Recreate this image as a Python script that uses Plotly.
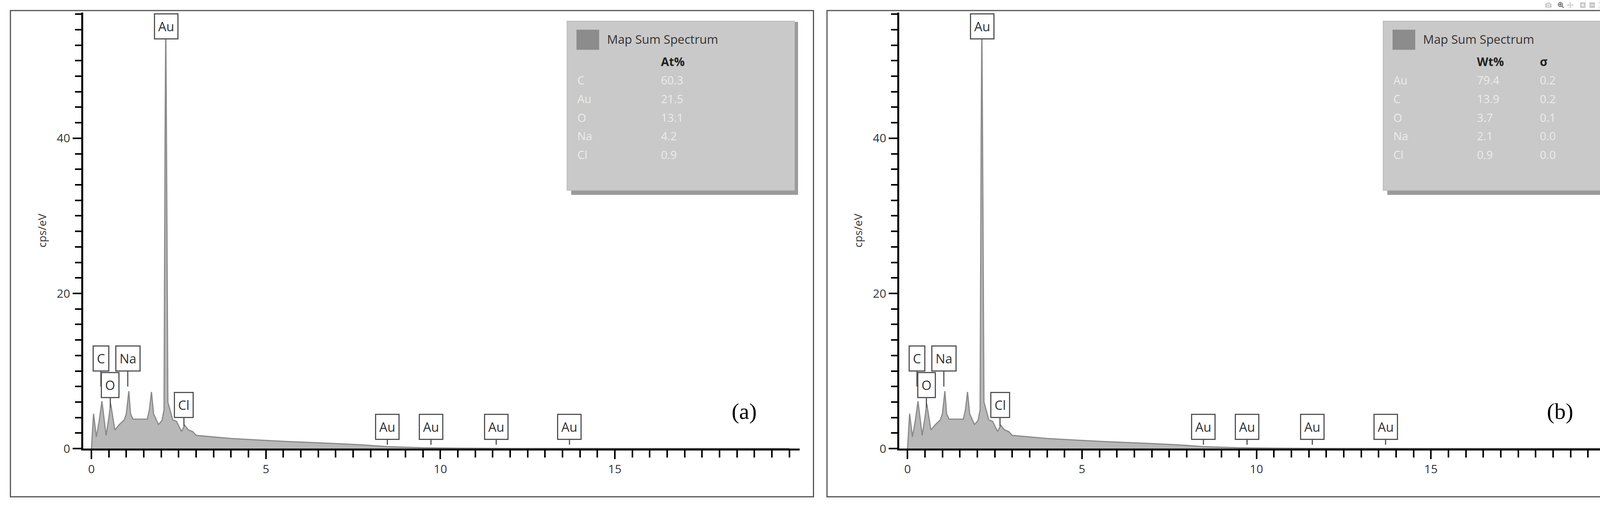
import plotly.graph_objects as go

energy = [0.0, 0.03, 0.06, 0.14, 0.22, 0.3, 0.42, 0.5, 0.55, 0.67, 0.8, 0.94, 1.0, 1.07, 1.12, 1.19, 1.6, 1.66, 1.72, 1.78, 1.92, 2.02, 2.08, 2.11, 2.13, 2.15, 2.19, 2.33, 2.44, 2.58, 2.67, 2.78, 2.9, 3.0, 4.0, 5.0, 5.67, 7.0, 7.7, 8.5, 9.5, 10.5, 12, 15, 20]
counts = [0.0, 2.0, 4.5, 1.5, 3.5, 6.1, 1.7, 4.0, 5.8, 2.4, 3.1, 3.7, 4.5, 7.4, 4.5, 3.8, 3.8, 5.0, 7.3, 4.5, 3.1, 3.6, 5.0, 40.0, 55.5, 40.0, 6.0, 3.7, 3.5, 2.2, 3.0, 2.4, 2.2, 1.7, 1.3, 1.05, 0.9, 0.65, 0.5, 0.25, 0.1, 0.05, 0.02, 0.01, 0.0]

peak_labels = ["C", "O", "Na", "Cl", "Au", "Au", "Au", "Au", "Au"]
peak_x = [0.27, 0.54, 1.04, 2.65, 2.14, 8.48, 9.73, 11.6, 13.7]
peak_tip_y = [8.0, 5.3, 8.0, 2.9, 52.8, 0.5, 0.5, 0.5, 0.5]
peak_box_y = [11.6, 8.2, 11.6, 5.6, 54.4, 2.8, 2.8, 2.8, 2.8]

elements_a = ["C", "Au", "O", "Na", "Cl"]
at_pct = ["60.3", "21.5", "13.1", "4.2", "0.9"]
elements_b = ["Au", "C", "O", "Na", "Cl"]
wt_pct = ["79.4", "13.9", "3.7", "2.1", "0.9"]
sigma = ["0.2", "0.2", "0.1", "0.0", "0.0"]

x_ticks = [0, 5, 10, 15]
y_ticks = [0, 20, 40]

fig = go.Figure()
FONT = "Open Sans"
panels = [("x", "y", "(a)", [0.051, 0.491]), ("x2", "y2", "(b)", [0.552, 0.992])]
frames = [[0.0064, 0.4994], [0.5077, 0.9936]]

for i, (xa, ya, tag, dom) in enumerate(panels):
    fig.add_trace(go.Scatter(x=energy, y=counts, xaxis=xa, yaxis=ya, mode="lines",
                             fill="tozeroy", fillcolor="#b8b8b8",
                             line=dict(color="#8a8a8a", width=3), showlegend=False))
    sfx = "" if i == 0 else "2"
    ax = dict(domain=dom, range=[-0.24, 20.3], tickvals=x_ticks, showline=True, linecolor="black",
              linewidth=5, ticks="outside", ticklen=22, tickwidth=4, tickcolor="black",
              minor=dict(dtick=0.5, ticks="outside", ticklen=18, tickwidth=4, tickcolor="black"),
              showgrid=False, zeroline=False, tickfont=dict(family=FONT, size=30, color="#333"),
              anchor=ya)
    ay = dict(domain=[0.11, 0.975], range=[0, 56.2], tickvals=y_ticks, showline=True, linecolor="black",
              linewidth=5, ticks="outside", ticklen=22, tickwidth=4, tickcolor="black",
              minor=dict(dtick=2, ticks="outside", ticklen=16, tickwidth=4, tickcolor="black"),
              showgrid=False, zeroline=False, tickfont=dict(family=FONT, size=30, color="#333"),
              anchor=xa, title=dict(text="cps/eV", font=dict(family=FONT, size=28, color="#333"), standoff=20))
    fig.layout["xaxis" + sfx] = ax
    fig.layout["yaxis" + sfx] = ay

    fig.add_shape(type="rect", xref="paper", yref="paper", x0=frames[i][0], x1=frames[i][1],
                  y0=0.0144, y1=0.979, line=dict(color="#555", width=3))
    fig.add_annotation(x=19.9, y=-3.3, xref=xa, yref=ya, text="keV", showarrow=False,
                       font=dict(family=FONT, size=28, color="#333"))
    fig.add_annotation(x=18.7, y=4.8, xref=xa, yref=ya, text=tag, showarrow=False,
                       font=dict(family="Liberation Serif", size=58, color="black"))
    for lab, px, ty, by in zip(peak_labels, peak_x, peak_tip_y, peak_box_y):
        fig.add_annotation(x=px, y=ty, xref=xa, yref=ya, ax=px, ay=by, axref=xa, ayref=ya,
                           text=lab, showarrow=True, arrowhead=0, arrowwidth=3, arrowcolor="#555",
                           bordercolor="#555", borderwidth=3, borderpad=8, bgcolor="white",
                           font=dict(family=FONT, size=33, color="#333"))
    fig.add_shape(type="rect", xref=xa, yref=ya, x0=13.75, x1=20.25, y0=32.7, y1=55.0,
                  line=dict(width=0), fillcolor="#9a9a9a")
    fig.add_shape(type="rect", xref=xa, yref=ya, x0=13.63, x1=20.15, y0=33.3, y1=55.1,
                  line=dict(color="#bdbdbd", width=2), fillcolor="#c9c9c9")
    fig.add_shape(type="rect", xref=xa, yref=ya, x0=13.9, x1=14.55, y0=51.4, y1=54.0,
                  line=dict(width=0), fillcolor="#8c8c8c")
    fig.add_annotation(x=14.75, y=52.8, xref=xa, yref=ya, text="Map Sum Spectrum", showarrow=False,
                       xanchor="left", font=dict(family=FONT, size=31, color="#333"))
    rows_y = [47.5, 45.1, 42.7, 40.3, 37.9]
    if i == 0:
        heads = [("At%", 16.3)]
        cols = [(elements_a, 13.9), (at_pct, 16.3)]
    else:
        heads = [("Wt%", 16.3), ("σ", 18.1)]
        cols = [(elements_b, 13.9), (wt_pct, 16.3), (sigma, 18.1)]
    for h, hx in heads:
        fig.add_annotation(x=hx, y=49.9, xref=xa, yref=ya, text="<b>" + h + "</b>", showarrow=False,
                           xanchor="left", font=dict(family=FONT, size=30, color="#222"))
    for vals, cx in cols:
        for v, ry in zip(vals, rows_y):
            fig.add_annotation(x=cx, y=ry, xref=xa, yref=ya, text=v, showarrow=False,
                               xanchor="left", font=dict(family=FONT, size=29, color="#ececec"))

fig.update_layout(width=4170, height=1310, margin=dict(l=0, r=0, t=0, b=0),
                  paper_bgcolor="white", plot_bgcolor="white", showlegend=False)
fig.write_html("out.html")

with open("out.html", "r", encoding="utf-8") as f:
    html = f.read()
html = html.replace("<head>", "<head><style>html,body{margin:0;padding:0;overflow:hidden}</style>", 1)
with open("out.html", "w", encoding="utf-8") as f:
    f.write(html)
